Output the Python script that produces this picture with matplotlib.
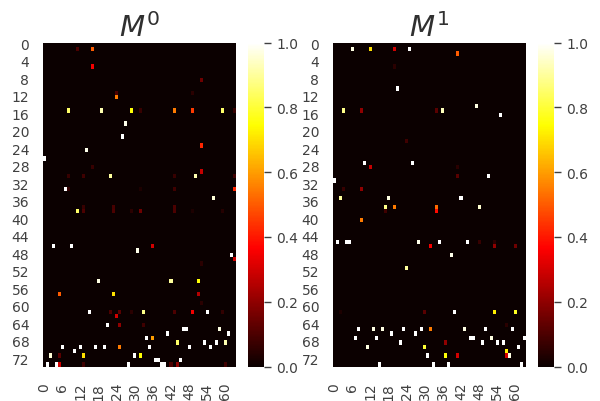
import matplotlib
matplotlib.use('Agg')
import matplotlib.pyplot as plt
import numpy as np
import seaborn as sns

n_rows = 74
n_cols = 64

# sparse cells: row, col, value
rows_0 = [1, 1, 5, 8, 11, 12, 11,
          15, 15, 15, 15, 15, 15, 15, 15,
          18, 21, 23, 24, 26, 28, 29,
          30, 30, 30, 30, 30, 30,
          33, 33, 33, 33, 33, 35,
          37, 37, 37,
          38, 38, 38, 38, 38, 38, 38, 38,
          46, 46, 46, 47, 48, 49, 50,
          54, 54, 54, 57, 57, 57, 59,
          61, 61, 61, 61, 61, 61, 61, 61, 61,
          62, 64, 64, 64,
          65, 65, 65, 66, 66, 67, 67,
          68, 68, 68, 68,
          69, 69, 69, 69, 69, 69, 69, 69,
          70, 71, 71, 71, 71, 71,
          72, 72, 72,
          73, 73, 73, 73, 73, 73, 73, 73, 73, 73]
cols_0 = [11, 16, 16, 52, 24, 24, 49,
          8, 19, 29, 32, 43, 49, 59, 63,
          27, 26, 52, 14, 0, 16, 52,
          8, 13, 22, 43, 50, 63,
          7, 8, 43, 32, 63, 56,
          13, 23, 43,
          11, 13, 23, 29, 32, 43, 49, 59,
          3, 9, 36, 31, 62, 63, 52,
          18, 42, 51, 5, 23, 51, 52,
          15, 22, 25, 29, 33, 43, 49, 54, 59,
          24, 21, 25, 33,
          46, 47, 58, 41, 61, 34, 36,
          44, 53, 57, 60,
          6, 12, 17, 20, 25, 35, 48, 55,
          10, 2, 5, 13, 30, 32,
          37, 38, 45,
          1, 4, 5, 13, 28, 39, 40, 42, 44, 60]
vals_0 = [.1, .5, .35, .15, .1, .55, .05,
          .85, .92, .75, .07, .55, .45, .85, .07,
          .98, 1, .42, .98, 1, .07, .28,
          .07, .08, .9, .07, .92, .08,
          1, .06, .08, .03, .42, .96,
          .07, .09, .1,
          .85, .1, .1, .05, .15, .1, .03, .04,
          1, 1, .3, .98, 1, .3, .05,
          .97, .9, .75, .5, .7, .25, .05,
          1, .1, .12, .05, .88, .1, .35, 1, .06,
          .3, 1, .2, .08,
          1, 1, .97, 1, 1, 1, .6,
          .85, 1, 1, .92,
          1, 1, 1, 1, .55, 1, 1, 1,
          1, .96, .12, .7, 1, .75,
          1, 1, 1,
          1, 1, .3, .08, 1, 1, 1, .1, .2, .08]

rows_1 = [1, 1, 1, 1, 2, 5, 10, 14,
          15, 15, 15, 15, 16, 22,
          27, 27, 28, 28, 30, 30, 31,
          33, 33, 35, 35, 35,
          37, 37, 37, 37, 38, 38, 40,
          45, 45, 45, 45, 45, 45, 45, 45,
          46, 46, 46, 48, 51,
          61, 61, 61, 61, 61, 64,
          65, 65, 65, 65, 65, 65, 65, 65, 65,
          66, 66,
          67, 67, 67, 67, 67, 67,
          68, 68, 68, 68, 68,
          69, 69, 69, 70,
          71, 71, 71, 71, 71,
          73, 73, 73, 73]
cols_1 = [6, 12, 20, 25, 41, 20, 21, 47,
          3, 9, 34, 36, 55, 24,
          10, 26, 12, 41, 41, 51, 0,
          3, 9, 2, 18, 42,
          17, 20, 34, 48, 34, 17, 9,
          1, 4, 5, 28, 35, 44, 48, 53,
          32, 53, 60, 39, 24,
          2, 30, 40, 53, 60, 57,
          8, 13, 16, 23, 29, 32, 43, 50, 59,
          19, 27,
          7, 14, 45, 46, 52, 63,
          22, 37, 49, 54, 56,
          11, 30, 61, 57,
          31, 37, 41, 57, 58,
          15, 33, 38, 62]
vals_1 = [.97, .7, .3, 1, .5, .05, 1, .97,
          .88, .2, .12, .93, 1, .08,
          1, 1, .28, .05, .12, 1, 1,
          .07, .2, .9, .97, 1,
          .88, .55, .52, .95, .38, .08, .55,
          1, 1, 1, .98, 1, 1, .07, .05,
          .35, .2, .15, .98, .9,
          .03, .12, 1, .72, .78, .05,
          1, .97, .97, 1, 1, .55, .97, 1, 1,
          1, 1,
          1, 1, 1, 1, .97, 1,
          1, .2, 1, 1, 1,
          .97, .8, 1, .72,
          1, .75, .3, .3, .97,
          1, 1, 1, 1]

titles = ['$M^0$', '$M^1$']
ax_x = [42.5, 332.5]
cbar_x = [248, 538]
label_col = '#404040'


def to_matrix(r, c, v):
    m = np.zeros((n_rows, n_cols))
    m[r, c] = v
    return m


sns.set_style('white')
plt.rcParams['text.color'] = '#303030'

fig = plt.figure(figsize=(6, 4.02), dpi=100)
W, H = 600.0, 402.0
data = [to_matrix(rows_0, cols_0, vals_0), to_matrix(rows_1, cols_1, vals_1)]

for i in range(2):
    ax = fig.add_axes([ax_x[i]/W, 1-367.5/H, 193.5/W, 324/H])
    cax = fig.add_axes([cbar_x[i]/W, 1-367.5/H, 16/W, 324/H])
    sns.heatmap(data[i], cmap='hot', vmin=0, vmax=1, ax=ax, cbar_ax=cax,
                xticklabels=6, yticklabels=4)
    ax.set_title(titles[i], fontsize=21, pad=5)
    ax.tick_params(axis='y', labelsize=10, length=0, labelcolor=label_col, pad=9.5, labelrotation=0)
    ax.tick_params(axis='x', labelsize=10, length=0, labelcolor=label_col, pad=11, labelrotation=90)
    cax.tick_params(labelsize=10, length=5, width=1, color=label_col, labelcolor=label_col, pad=4)
    cax.set_yticks([0, .2, .4, .6, .8, 1.0])

fig.savefig('out.png', dpi=100)
